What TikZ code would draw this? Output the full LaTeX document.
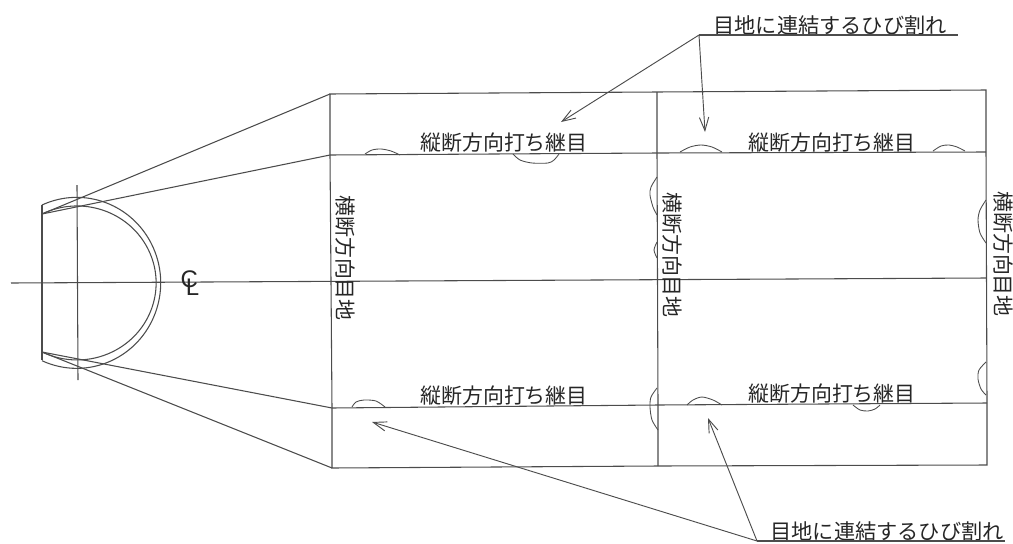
\documentclass[tikz,border=0pt]{standalone}
\usepackage{fontspec}
\setmainfont{Noto Sans CJK JP}
\setsansfont{Liberation Sans}
\usetikzlibrary{arrows.meta}
\definecolor{inkline}{gray}{0.3}
\definecolor{inktext}{gray}{0.15}
\tikzset{
outline/.style={draw=inkline, line width=0.8pt},
crack/.style={draw=inkline, line width=0.65pt},
leader/.style={draw=inkline, line width=0.7pt, -{Straight Barb[length=10pt,width=7pt,line width=0.7pt]}},
joint label/.style={text=inktext, font=\fontsize{15.7}{16}\selectfont, inner sep=0pt},
cross label/.style={joint label, rotate=-90},
crack label/.style={joint label, font=\fontsize{15.9}{16}\selectfont},
center mark/.style={text=inktext, font=\sffamily\fontsize{18}{18}\selectfont, inner sep=0pt},
}
\begin{document}
\begin{tikzpicture}[x=0.75pt,y=-0.75pt]
\useasboundingbox (0,0) rectangle (1013,543);

% slab corners
\coordinate (tl) at (330,94);
\coordinate (tm) at (657,92);
\coordinate (tr) at (986,90);
\coordinate (ul) at (330,155);
\coordinate (um) at (657,153);
\coordinate (ur) at (986,152);
\coordinate (ll) at (332,408);
\coordinate (lm) at (658,405);
\coordinate (lr) at (987,403);
\coordinate (bl) at (332,468);
\coordinate (bm) at (658,466);
\coordinate (br) at (987,465);

% pipe end
\coordinate (pipe top) at (42,205);
\coordinate (pipe bot) at (42,360);
\coordinate (rim top) at (42,214);
\coordinate (rim bot) at (42,352);
\coordinate (axis w) at (11,283);
\coordinate (axis e) at (986,278);
\coordinate (cross n) at (77,185);
\coordinate (cross s) at (78,380);

\draw[outline] (tl) -- (tm) -- (tr) -- (ur) -- (lr) -- (br) -- (bm) -- (bl) -- (ll) -- (ul) -- cycle;
\draw[outline] (ul) -- (um) -- (ur);
\draw[outline] (ll) -- (lm) -- (lr);
\draw[outline] (tm) -- (um) -- (lm) -- (bm);
\draw[outline] (axis w) -- (axis e);
\draw[outline] (cross n) -- (cross s);
\draw[outline] (pipe top) -- (pipe bot);
\draw[outline] (pipe top) arc[start angle=-114.4, end angle=114.4, x radius=84, y radius=85.5];
\draw[outline] (rim top) arc[start angle=-116.4, end angle=116.4, x radius=79, y radius=77];
\draw[outline] (rim top) -- (tl);
\draw[outline] (rim top) -- (ul);
\draw[outline] (rim bot) -- (ll);
\draw[outline] (rim bot) -- (bl);

% cracks
\draw[crack] plot[smooth] coordinates {(365,154) (372,150) (381,149) (391,151) (400,155)};
\draw[crack] plot[smooth] coordinates {(513,154) (520,160) (532,163) (548,163) (554,160) (559,154)};
\draw[crack] plot[smooth] coordinates {(680,152) (690,147) (701,145) (712,147) (722,152)};
\draw[crack] plot[smooth] coordinates {(933,151) (941,146) (949,145) (957,147) (965,151)};
\draw[crack] plot[smooth] coordinates {(657,177) (651,187) (650,195) (653,207) (657,215)};
\draw[crack] plot[smooth] coordinates {(657,242) (654,250) (657,258)};
\draw[crack] plot[smooth] coordinates {(986,200) (980,210) (978,220) (980,233) (986,243)};
\draw[crack] plot[smooth] coordinates {(986,362) (979,370) (978,379) (981,389) (986,395)};
\draw[crack] plot[smooth] coordinates {(657,388) (651,397) (650,407) (652,420) (658,430)};
\draw[crack] plot[smooth] coordinates {(352,407) (356,402) (364,400) (376,401) (385,407)};
\draw[crack] plot[smooth] coordinates {(687,405) (693,400) (702,397) (713,400) (722,405)};
\draw[crack] plot[smooth] coordinates {(853,405) (860,410) (868,411) (875,409) (880,405)};

% labels
\node[joint label] (long a) at (504,143) {縦断方向打ち継目};
\node[joint label] (long b) at (832,143) {縦断方向打ち継目};
\node[joint label] (long c) at (504,396) {縦断方向打ち継目};
\node[joint label] (long d) at (832,394) {縦断方向打ち継目};
\node[cross label] (trans a) at (345,258) {横断方向目地};
\node[cross label] (trans b) at (672,255) {横断方向目地};
\node[cross label] (trans c) at (1003,254) {横断方向目地};
\node[center mark] (mark cl) at (190,283) {C\kern-0.5em\raisebox{-0.32em}{L}};

% leaders
\node[crack label] (note top) at (830,25) {目地に連結するひび割れ};
\node[crack label] (note bot) at (887,531) {目地に連結するひび割れ};
\coordinate (knee top) at (699,35);
\coordinate (tail top) at (958,35);
\coordinate (knee bot) at (757,541);
\coordinate (tail bot) at (1005,541);
\coordinate (tip a) at (561,122);
\coordinate (tip b) at (705,132);
\coordinate (tip c) at (372,422);
\coordinate (tip d) at (708,418);
\draw[outline] (knee top) -- (tail top);
\draw[outline] (knee bot) -- (tail bot);
\draw[leader] (knee top) -- (tip a);
\draw[leader] (knee top) -- (tip b);
\draw[leader] (knee bot) -- (tip c);
\draw[leader] (knee bot) -- (tip d);

\end{tikzpicture}
\end{document}
